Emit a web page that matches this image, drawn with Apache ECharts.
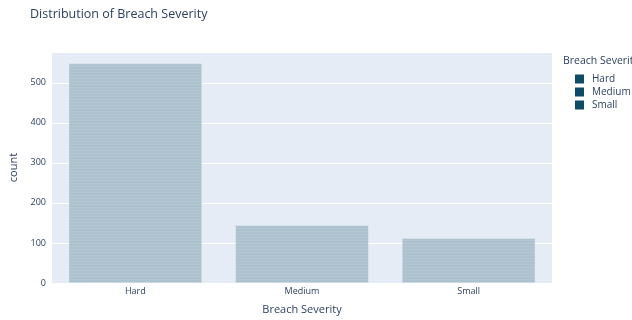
<!DOCTYPE html>
<html>
<head>
<meta charset="utf-8">
<script src="https://cdn.jsdelivr.net/npm/echarts@6/dist/echarts.min.js"></script>
<style>
  html, body { margin: 0; padding: 0; background: #fff; }
  #chart { width: 632px; height: 320px; }
</style>
</head>
<body>
<div id="chart"></div>
<script>
// Breach counts per severity level
const categories = ['Hard', 'Medium', 'Small'];
const counts = [548, 144, 112];
const yTicks = [0, 100, 200, 300, 400, 500];

const FONT = '"Open Sans", "DejaVu Sans", sans-serif';
const TEXT = '#2a3f5f';
const BAR_FILL = '#adc2cf';
const LEGEND_FILL = '#0f4a66';

const chart = echarts.init(document.getElementById('chart'), null, { renderer: 'canvas' });

// One series per severity so each gets its own legend entry; stacking keeps each
// bar centred in its category at full width.
const series = categories.map((name, i) => ({
  name: name,
  type: 'bar',
  stack: 'severity',
  barCategoryGap: '20%',
  data: categories.map((c, j) => (j === i ? counts[i] : '-')),
  itemStyle: {
    color: BAR_FILL,
    borderColor: 'rgba(255,255,255,0.3)',
    borderWidth: 0.5,
    decal: {
      symbol: 'rect',
      symbolSize: 1,
      dashArrayX: [1, 0],
      dashArrayY: [1, 2],
      color: 'rgba(255,255,255,0.07)',
      rotation: 0
    }
  },
  emphasis: { disabled: true }
}));

chart.setOption({
  animation: false,
  backgroundColor: '#ffffff',
  title: {
    text: 'Distribution of Breach Severity',
    left: 25,
    top: 3,
    textStyle: { fontFamily: FONT, fontSize: 12.5, fontWeight: 'normal', color: TEXT }
  },
  legend: {
    orient: 'vertical',
    left: 570,
    top: 69,
    itemWidth: 9,
    itemHeight: 9,
    itemGap: 3,
    icon: 'rect',
    textStyle: { fontFamily: FONT, fontSize: 10, lineHeight: 10, color: TEXT, padding: [0, 0, 0, 3] },
    selectedMode: false,
    data: categories.map(c => ({ name: c, itemStyle: { color: LEGEND_FILL, decal: 'none', borderWidth: 0 } }))
  },
  graphic: [{
    type: 'text',
    left: 563,
    top: 56,
    style: { text: 'Breach Severity', fontFamily: FONT, fontSize: 10.5, fill: TEXT }
  }],
  grid: { left: 52, right: 80, top: 52, bottom: 36, backgroundColor: '#e5ecf6', show: true, borderWidth: 0 },
  xAxis: {
    type: 'category',
    data: categories,
    name: 'Breach Severity',
    nameLocation: 'middle',
    nameGap: 21,
    nameTextStyle: { fontFamily: FONT, fontSize: 11, color: TEXT },
    axisLine: { show: false },
    axisTick: { show: false },
    axisLabel: { fontFamily: FONT, fontSize: 9, color: TEXT, margin: 4 }
  },
  yAxis: {
    type: 'value',
    min: 0,
    max: 577,
    interval: 100,
    name: 'count',
    nameLocation: 'middle',
    nameGap: 31,
    nameTextStyle: { fontFamily: FONT, fontSize: 11, color: TEXT },
    axisLine: { show: false },
    axisTick: { show: false },
    splitLine: { lineStyle: { color: '#ffffff', width: 1 } },
    axisLabel: {
      fontFamily: FONT, fontSize: 9, color: TEXT, margin: 6,
      formatter: v => (yTicks.indexOf(v) >= 0 ? String(v) : '')
    }
  },
  series: series
});
</script>
</body>
</html>
